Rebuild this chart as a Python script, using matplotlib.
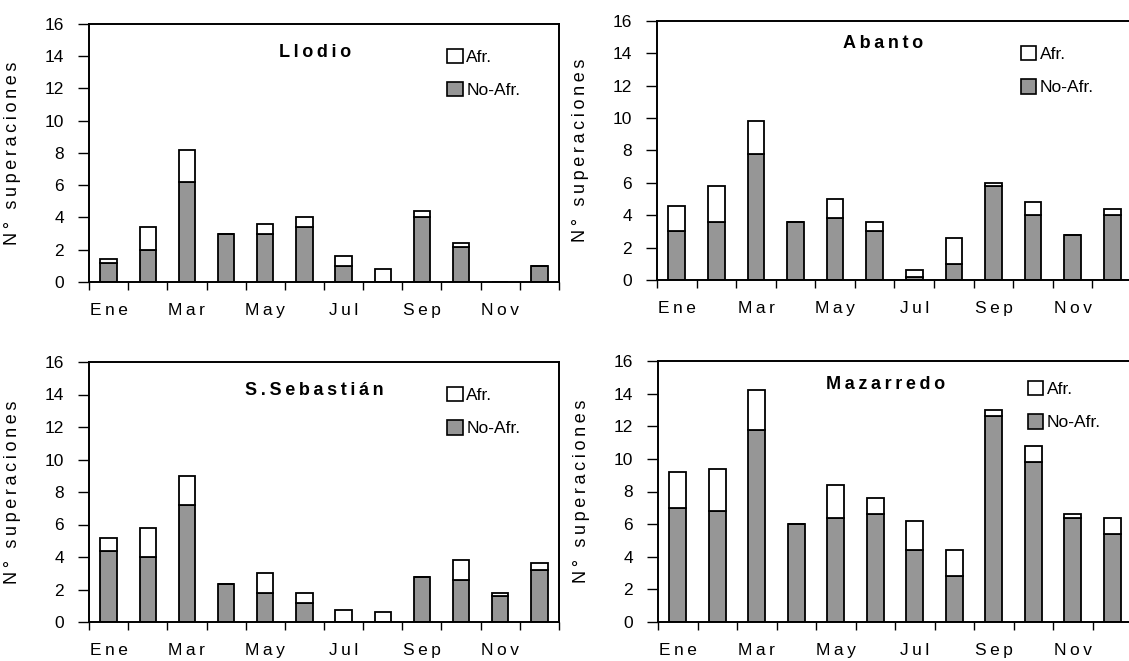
import matplotlib.pyplot as plt
from matplotlib.patches import Patch
import numpy as np

plt.rcParams['font.family'] = ['Liberation Sans', 'DejaVu Sans']

months = ['Ene', 'Feb', 'Mar', 'Abr', 'May', 'Jun',
          'Jul', 'Ago', 'Sep', 'Oct', 'Nov', 'Dic']

# No-Afr (gray, bottom) and Afr (white, stacked on top) per station
llodio_noafr = [1.2, 2.0, 6.2, 3.0, 3.0, 3.4, 1.0, 0.0, 4.0, 2.2, 0.0, 1.0]
llodio_afr = [0.2, 1.4, 2.0, 0.0, 0.6, 0.6, 0.6, 0.8, 0.4, 0.2, 0.0, 0.0]

abanto_noafr = [3.0, 3.6, 7.8, 3.6, 3.8, 3.0, 0.2, 1.0, 5.8, 4.0, 2.8, 4.0]
abanto_afr = [1.6, 2.2, 2.0, 0.0, 1.2, 0.6, 0.4, 1.6, 0.2, 0.8, 0.0, 0.4]

ssebastian_noafr = [4.4, 4.0, 7.2, 2.35, 1.8, 1.2, 0.0, 0.0, 2.8, 2.6, 1.6, 3.2]
ssebastian_afr = [0.8, 1.8, 1.8, 0.0, 1.2, 0.6, 0.75, 0.6, 0.0, 1.2, 0.2, 0.45]

mazarredo_noafr = [7.0, 6.8, 11.8, 6.0, 6.4, 6.6, 4.4, 2.8, 12.6, 9.8, 6.4, 5.4]
mazarredo_afr = [2.2, 2.6, 2.4, 0.0, 2.0, 1.0, 1.8, 1.6, 0.4, 1.0, 0.2, 1.0]

W, H = 1129, 661
fig = plt.figure(figsize=(W / 100, H / 100), dpi=100)

THIN = '\u2009'


def spaced(s):
    # the original Excel export has wide letter spacing
    return THIN.join(s)


def px_axes(left, right, top, bottom):
    return fig.add_axes([left / W, 1 - bottom / H, (right - left) / W, (bottom - top) / H])


panels = [
    ("Llodio", llodio_noafr, llodio_afr, (89, 559, 24, 282), (0.48, 0.89), (0.762, 0.905)),
    ("Abanto", abanto_noafr, abanto_afr, (657, 1132, 21, 280), (0.475, 0.915), (0.766, 0.905)),
    ("S.Sebastián", ssebastian_noafr, ssebastian_afr, (89, 559, 362, 622), (0.48, 0.89), (0.762, 0.905)),
    ("Mazarredo", mazarredo_noafr, mazarredo_afr, (658, 1132, 361, 622), (0.48, 0.91), (0.78, 0.925)),
]

x = np.arange(len(months))
gray = '#969696'

for name, noafr, afr, box, tpos, lpos in panels:
    ax = px_axes(*box)
    ax.bar(x, noafr, width=0.42, color=gray, edgecolor='black', linewidth=1.3)
    ax.bar(x, afr, width=0.42, bottom=noafr, color='white', edgecolor='black', linewidth=1.3)

    ax.set_xlim(-0.5, 11.5)
    ax.set_ylim(0, 16)
    ax.set_yticks(range(0, 17, 2))
    ax.tick_params(axis='y', length=8, width=1, pad=10, labelsize=12.5, direction='out')

    ax.set_xticks(x[::2])
    ax.set_xticklabels([spaced(m) for m in months[::2]])
    ax.set_xticks(np.arange(-0.5, 12, 1), minor=True)
    ax.tick_params(axis='x', which='major', length=0, pad=15, labelsize=12.5)
    ax.tick_params(axis='x', which='minor', length=6, width=1, direction='out')

    for s in ax.spines.values():
        s.set_linewidth(1.4)

    ax.set_ylabel(spaced("N° superaciones"), fontsize=13)
    ax.yaxis.set_label_coords(-68 / (box[1] - box[0]), 0.5)

    ax.text(tpos[0], tpos[1], spaced(name), transform=ax.transAxes, ha='center', va='center',
            fontsize=13, fontweight='bold')

    handles = [Patch(facecolor='white', edgecolor='black', linewidth=1.2),
               Patch(facecolor=gray, edgecolor='black', linewidth=1.2)]
    ax.legend(handles, ['Afr.', 'No-Afr.'], loc='upper left', bbox_to_anchor=lpos,
              frameon=False, fontsize=12.5, handlelength=0.9, handleheight=0.9,
              handletextpad=0.2, labelspacing=1.0, borderpad=0, borderaxespad=0)

fig.savefig('out.png', dpi=100)
